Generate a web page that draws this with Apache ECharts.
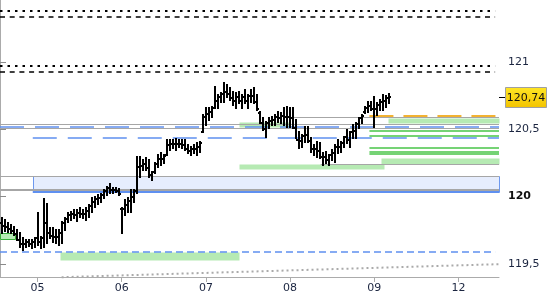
<!DOCTYPE html>
<html><head><meta charset="utf-8">
<script src="https://cdn.jsdelivr.net/npm/echarts@6/dist/echarts.min.js"></script>
<style>html,body{margin:0;padding:0;background:#fff}#c{width:550px;height:300px}</style>
</head><body><div id="c"></div>
<script>
// ---- data ----
const dayLabels = ['05','06','07','08','09','12'];
const dayStartBar = [12,40,68,96,124,152];
const barCount = 166;
const yTicks = [119.5,120,120.5,121];
const yMin = 119.4015, yMax = 121.461;

const opens = [
119.80,119.78,119.77,119.76,119.74,119.72,119.68,119.65,119.65,119.66,
119.65,119.66,119.69,119.66,119.69,119.80,119.73,119.71,119.70,119.70,
119.73,119.80,119.83,119.86,119.87,119.86,119.88,119.87,119.87,119.89,
119.93,119.96,119.98,119.99,120.01,120.04,120.06,120.05,120.05,120.04,
119.91,119.91,119.94,119.97,120.00,120.04,120.22,120.23,120.24,120.21,
120.16,120.18,120.24,120.28,120.28,120.31,120.38,120.39,120.39,120.39,
120.39,120.38,120.35,120.34,120.35,120.35,120.37,120.48,120.59,120.61,
120.63,120.66,120.71,120.74,120.76,120.78,120.76,120.73,120.71,120.74,
120.71,120.74,120.71,120.75,120.75,120.70,120.62,120.55,120.50,120.55,
120.56,120.57,120.59,120.58,120.60,120.59,120.59,120.58,120.51,120.42,
120.41,120.45,120.46,120.41,120.35,120.35,120.34,120.29,120.29,120.27,
120.31,120.32,120.37,120.37,120.40,120.44,120.42,120.48,120.49,120.54,
120.58,120.63,120.66,120.67,120.65,120.65,120.68,120.70,120.71,120.73];
const highs = [
119.840,119.825,119.803,119.788,119.773,119.751,119.729,119.692,119.677,119.677,
119.677,119.692,119.877,119.699,119.981,119.944,119.766,119.766,119.751,119.751,
119.810,119.840,119.877,119.885,119.900,119.900,119.915,119.900,119.915,119.937,
119.989,119.996,120.011,120.019,120.048,120.071,120.093,120.063,120.063,120.056,
119.915,119.974,119.989,120.048,120.048,120.294,120.294,120.271,120.286,120.271,
120.182,120.249,120.309,120.323,120.309,120.420,120.420,120.420,120.428,120.420,
120.420,120.420,120.383,120.368,120.383,120.398,120.405,120.606,120.658,120.658,
120.666,120.814,120.755,120.770,120.844,120.829,120.807,120.777,120.770,120.777,
120.755,120.792,120.755,120.792,120.807,120.755,120.628,120.584,120.554,120.584,
120.591,120.606,120.628,120.621,120.658,120.666,120.658,120.658,120.569,120.480,
120.457,120.517,120.517,120.435,120.383,120.405,120.398,120.323,120.331,120.309,
120.346,120.383,120.420,120.405,120.442,120.494,120.480,120.532,120.547,120.584,
120.606,120.666,120.703,120.703,120.740,120.695,120.718,120.755,120.747,120.762];
const lows = [
119.729,119.744,119.736,119.729,119.714,119.677,119.625,119.602,119.625,119.632,
119.617,119.625,119.639,119.617,119.625,119.654,119.692,119.662,119.654,119.639,
119.654,119.751,119.810,119.825,119.840,119.818,119.848,119.840,119.825,119.848,
119.885,119.922,119.944,119.959,119.989,120.011,120.026,120.026,120.034,120.011,
119.729,119.863,119.885,119.885,119.959,120.026,120.145,120.197,120.197,120.145,
120.123,120.175,120.219,120.234,120.249,120.309,120.346,120.361,120.346,120.368,
120.361,120.346,120.323,120.309,120.323,120.309,120.331,120.480,120.532,120.569,
120.591,120.658,120.658,120.703,120.703,120.740,120.718,120.680,120.658,120.695,
120.658,120.695,120.658,120.703,120.695,120.643,120.547,120.494,120.442,120.509,
120.532,120.532,120.554,120.547,120.532,120.517,120.517,120.509,120.435,120.361,
120.368,120.405,120.405,120.331,120.309,120.294,120.286,120.234,120.249,120.234,
120.271,120.257,120.323,120.331,120.368,120.398,120.368,120.435,120.435,120.509,
120.547,120.621,120.628,120.643,120.517,120.606,120.643,120.643,120.666,120.695];
const closes = [
119.78,119.77,119.76,119.74,119.72,119.68,119.65,119.65,119.66,119.65,
119.66,119.69,119.66,119.69,119.80,119.73,119.71,119.70,119.70,119.73,
119.80,119.83,119.86,119.87,119.86,119.88,119.87,119.87,119.89,119.93,
119.96,119.98,119.99,120.01,120.04,120.06,120.05,120.05,120.04,120.02,
119.91,119.94,119.97,120.00,120.04,120.22,120.23,120.24,120.21,120.16,
120.18,120.24,120.28,120.28,120.30,120.38,120.39,120.39,120.39,120.39,
120.38,120.35,120.34,120.35,120.35,120.37,120.40,120.59,120.61,120.63,
120.66,120.71,120.74,120.76,120.78,120.76,120.73,120.71,120.74,120.71,
120.74,120.71,120.75,120.75,120.70,120.65,120.55,120.50,120.55,120.56,
120.57,120.59,120.58,120.60,120.59,120.59,120.58,120.51,120.42,120.41,
120.45,120.46,120.41,120.35,120.35,120.34,120.29,120.29,120.27,120.31,
120.32,120.37,120.37,120.40,120.44,120.42,120.48,120.49,120.54,120.58,
120.60,120.66,120.67,120.65,120.65,120.68,120.70,120.71,120.73,120.74];

// annotation levels: [fromBar, toBar, price]
const blackDotted = [[0,164.7,121.381],[0,164.7,120.970]];
const blackDashed = [[0,164.7,121.332],[0,164.7,120.926]];
const grayLevels = [[0,166,120.537],[0,166,120.509],[95.1,166,120.591],[106.7,166,120.239],[0,166,120.152],[0,166,120.054],[0,166,120.043]];
const blueLongDash = [[0,166,120.514],[10.9,166,120.433]];
const blueShortDash = [[0,164.7,119.585]];
const blueSolid = [[10.9,166,120.031]];
const orangeDash = [[122.9,166,120.595]];
const greenLevels = [[122.9,166,120.487],[122.9,166,120.450],[122.9,166,120.358],[122.9,166,120.333],[122.9,166,120.318]];
// zones: [fromBar, toBar, top, bottom]
const greenZones = [[129.2,166,120.586,120.549],[126.6,166,120.286,120.241],[79.5,127.6,120.241,120.204],[79.5,96.1,120.557,120.517],[19.9,79.5,119.587,119.528]];
const greenBorderZones = [[0,4.9,119.726,119.682]];
const blueZones = [[10.9,166,120.152,120.031]];
// trend line: [fromBar, fromPrice, toBar, toPrice]
const trendLine = [[20.5,119.400,166,119.497]];
const lastPrice = closes[closes.length-1];

// ---- rendering ----
const FONT = '"DejaVu Sans", sans-serif';
const LABEL_COLOR = '#1b2540';
const ohlc = opens.map((o,i)=>[i+0.5,o,highs[i],lows[i],closes[i]]);
const fmt = v => String(+v.toFixed(2)).replace('.', ',');

function levelSeries(items, style, z){
  return {type:'custom', z, silent:true, data:items, encode:{x:[0,1], y:2},
    renderItem(p, api){
      const a = api.coord([api.value(0), api.value(2)]);
      const b = api.coord([api.value(1), api.value(2)]);
      const lw = style.lineWidth;
      const y = (Math.round(lw) % 2) ? Math.floor(a[1]) + 0.5 : Math.round(a[1]);
      return {type:'line', shape:{x1:a[0], y1:y, x2:b[0], y2:y}, style:Object.assign({fill:null}, style)};
    }};
}
function zoneSeries(items, style, z){
  return {type:'custom', z, silent:true, data:items, encode:{x:[0,1], y:[2,3]},
    renderItem(p, api){
      const a = api.coord([api.value(0), api.value(2)]);
      const b = api.coord([api.value(1), api.value(3)]);
      const x = Math.round(a[0]) + 0.5, y = Math.round(a[1]) + 0.5;
      return {type:'rect', shape:{x, y, width:Math.round(b[0]-a[0]), height:Math.round(b[1]-a[1])}, style:Object.assign({}, style)};
    }};
}

const series = [
  zoneSeries(blueZones, {fill:'#e6edfd', stroke:'#6d98ee', lineWidth:1}, 1),
  zoneSeries(greenZones, {fill:'#b6eab3'}, 1),
  zoneSeries(greenBorderZones, {fill:'#b6eab3', stroke:'#3bb03b', lineWidth:1}, 1),
  levelSeries(grayLevels, {stroke:'#a6a6a6', lineWidth:1}, 2),
  levelSeries(blueLongDash, {stroke:'#5f90f0', lineWidth:1.5, lineDash:[24,11]}, 3),
  levelSeries(blueShortDash, {stroke:'#5f90f0', lineWidth:1.5, lineDash:[7,4]}, 3),
  levelSeries(blueSolid, {stroke:'#5f90f0', lineWidth:2}, 3),
  levelSeries(orangeDash, {stroke:'#f2b232', lineWidth:2, lineDash:[24,10]}, 3),
  levelSeries(greenLevels, {stroke:'#47c447', lineWidth:1.5}, 3),
  levelSeries(blackDotted, {stroke:'#000', lineWidth:2, lineDash:[2.5,5]}, 3),
  levelSeries(blackDashed, {stroke:'#000', lineWidth:1.5, lineDash:[5,4.7]}, 3),
  {type:'custom', z:3, silent:true, data:trendLine, encode:{x:[0,2], y:[1,3]},
    renderItem(p, api){
      const a = api.coord([api.value(0), api.value(1)]);
      const b = api.coord([api.value(2), api.value(3)]);
      return {type:'line', shape:{x1:a[0], y1:a[1], x2:b[0], y2:b[1]}, style:{stroke:'#aaaaaa', lineWidth:2, lineDash:[2,3], fill:null}};
    }},
  {type:'custom', z:10, silent:true, data:ohlc, encode:{x:0, y:[1,2,3,4]},
    renderItem(p, api){
      const x = api.value(0);
      const pO = api.coord([x, api.value(1)]);
      const pH = api.coord([x, api.value(2)]);
      const pL = api.coord([x, api.value(3)]);
      const pC = api.coord([x, api.value(4)]);
      const cx = Math.round(pH[0]);
      const st = {stroke:'#000', lineWidth:2, fill:null};
      return {type:'group', children:[
        {type:'line', shape:{x1:cx, y1:Math.round(pH[1])-1, x2:cx, y2:Math.round(pL[1])+1}, style:st},
        {type:'line', shape:{x1:cx-2, y1:Math.round(pO[1]), x2:cx, y2:Math.round(pO[1])}, style:st},
        {type:'line', shape:{x1:cx, y1:Math.round(pC[1]), x2:cx+2, y2:Math.round(pC[1])}, style:st}
      ]};
    }},
  {type:'custom', z:20, silent:true, clip:false, data:[[barCount, lastPrice]], encode:{x:0, y:1},
    renderItem(p, api){
      const c = api.coord([api.value(0), api.value(1)]);
      const x0 = Math.round(c[0]), y = Math.round(c[1]);
      return {type:'group', children:[
        {type:'line', shape:{x1:x0, y1:y+0.5, x2:x0+6, y2:y+0.5}, style:{stroke:'#000', lineWidth:1}},
        {type:'rect', shape:{x:x0+6.5, y:y-9.5, width:41, height:20},
          style:{fill:new echarts.graphic.LinearGradient(0,0,0,1,[{offset:0,color:'#ffe625'},{offset:1,color:'#f3c300'}]), stroke:'#a0a0a0', lineWidth:1}},
        {type:'text', style:{text:fmt(api.value(1)), x:x0+27, y:y+1, textAlign:'center', textVerticalAlign:'middle', align:'center', verticalAlign:'middle', font:'11px ' + FONT, fill:'#111'}}
      ]};
    }}
];

const chart = echarts.init(document.getElementById('c'), null, {renderer:'canvas'});
chart.setOption({
  animation:false,
  backgroundColor:'#fff',
  grid:{left:-2, right:51, top:0, bottom:23, containLabel:false},
  xAxis:{type:'value', min:0, max:barCount, splitLine:{show:false},
    axisLine:{show:true, lineStyle:{color:'#ababab'}},
    axisTick:{show:true, length:5, customValues:dayStartBar.map(i=>i+0.5), lineStyle:{color:'#ababab'}},
    axisLabel:{customValues:dayStartBar.map(i=>i+0.5), margin:6, color:LABEL_COLOR, fontSize:11, fontFamily:FONT,
      formatter:v=>{const k=dayStartBar.indexOf(Math.round(v-0.5)); return k>=0?dayLabels[k]:'';}}},
  yAxis:{type:'value', position:'right', min:yMin, max:yMax, splitLine:{show:false},
    axisLine:{show:true, lineStyle:{color:'#ababab'}},
    axisTick:{show:true, length:6, customValues:yTicks, lineStyle:{color:'#8a8a8a'}},
    axisLabel:{customValues:yTicks, margin:9, color:LABEL_COLOR, fontSize:11, fontFamily:FONT,
      formatter:v=> Math.abs(v-120)<1e-9 ? '{b|120}' : fmt(v),
      rich:{b:{fontWeight:'bold', fontSize:11, fontFamily:FONT, color:'#111'}}}},
  series
});
</script></body></html>
